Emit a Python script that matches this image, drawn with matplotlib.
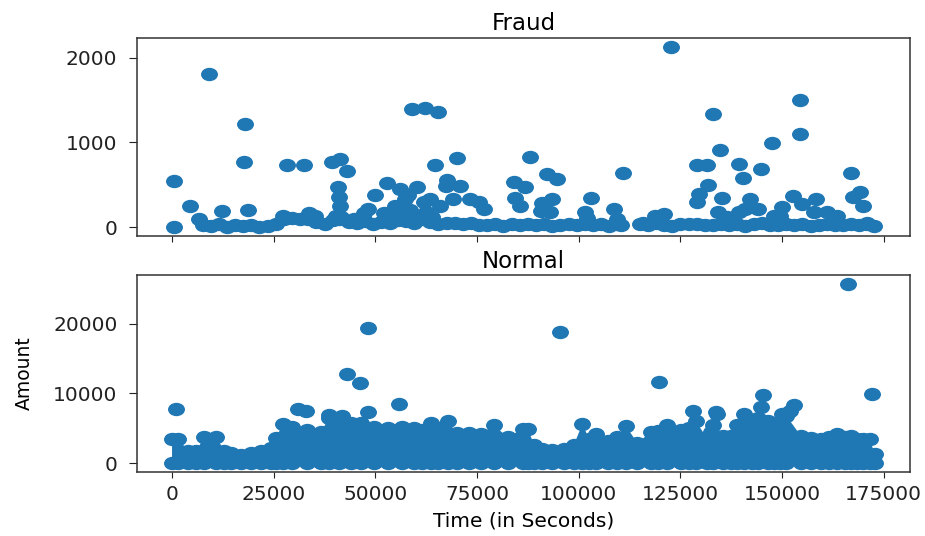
import numpy as np
import matplotlib
matplotlib.use("Agg")
import matplotlib.pyplot as plt
from matplotlib.path import Path
from matplotlib.markers import MarkerStyle

# ---- Fraud transactions (Time in s, Amount) ----
fraud_time = [400, 400, 4500, 6700, 9000, 12300, 17600, 18000, 18600, 27400,
              28300, 32400, 33600, 35200, 39300, 40400, 40700, 41000, 41400, 41400,
              43000, 44700, 47100, 48300, 50000, 52000, 52900, 54900, 56100, 57400,
              59000, 60200, 61900, 62300, 63500, 64600, 65300, 66000, 67300, 67600,
              69200, 70100, 70900, 73300, 75400, 76600, 84000, 84400, 85600, 86900,
              87900, 90600, 91000, 92200, 93000, 93400, 94700, 101600, 102000, 102900,
              108600, 109400, 110800, 115800, 118800, 120900, 122700, 129100, 129100, 129500,
              131500, 131700, 132900, 134300, 134700, 135200, 136400, 139300, 139300, 140400,
              141000, 142200, 144000, 144900, 147500, 148000, 149600, 150000, 152800, 154500,
              154500, 154900, 157800, 158400, 161000, 163500, 167000, 167400, 169200, 170000,
              170900, 56000, 58500, 60500, 62500, 64000, 58000, 41000]
fraud_amount = [545, 0, 243, 94, 1812, 192, 773, 1220, 200, 133,
                732, 732, 170, 133, 773, 133, 467, 350, 800, 250,
                662, 94, 170, 210, 376, 170, 518, 250, 447, 329,
                1388, 467, 290, 1408, 330, 732, 1356, 250, 484, 557,
                329, 816, 486, 329, 290, 212, 533, 346, 250, 467,
                827, 192, 282, 623, 173, 329, 565, 173, 110, 346,
                208, 94, 640, 47, 133, 153, 2125, 290, 729, 388,
                729, 494, 1338, 173, 909, 346, 114, 741, 173, 584,
                212, 329, 212, 682, 988, 133, 133, 232, 369, 1102,
                1498, 270, 173, 329, 173, 133, 643, 357, 408, 250,
                47, 150, 200, 120, 180, 120, 380, 100]

# dense band of small fraud amounts along the bottom
band_time = [7500, 9500, 11500, 13500, 15500, 17500, 19500, 21500, 23500, 25500,
             27500, 29500, 31500, 33500, 35500, 37500, 39500, 41500, 43500, 45500,
             47500, 49500, 51500, 53500, 55500, 57500, 59500, 61500, 63500, 65500,
             67500, 69500, 71500, 73500, 75500, 77500, 79500, 81500, 83500, 85500,
             87500, 89500, 91500, 93500, 95500, 97500, 99500, 101500, 103500, 105500,
             107500, 109500, 110500, 115000, 117000, 119000, 121000, 123000, 125000, 127000,
             129000, 131000, 133000, 135000, 137000, 139000, 141000, 143000, 145000, 147000,
             149000, 151000, 153000, 155000, 157000, 159000, 161000, 163000, 165000, 167000,
             169000, 171000, 172500]
band_amount = [20, 10, 30, 5, 20, 10, 25, 5, 15, 30,
               90, 110, 100, 95, 60, 40, 80, 120, 60, 50,
               70, 40, 60, 45, 80, 75, 50, 100, 60, 35,
               50, 45, 30, 45, 20, 25, 30, 15, 40, 20,
               35, 20, 30, 15, 25, 40, 25, 30, 25, 40,
               15, 30, 20, 30, 25, 45, 25, 15, 40, 30,
               30, 20, 25, 40, 20, 35, 15, 30, 45, 25,
               20, 30, 20, 40, 15, 25, 30, 20, 25, 35,
               20, 30, 15]

# ---- Normal transactions ----
# upper profile of the solid mass of points (time, amount)
normal_env_time = [0, 1500, 3850, 6000, 7900, 10800, 12800, 14500, 17000, 19400,
                   21900, 24300, 25600, 27200, 29500, 33300, 36600, 38600, 41000, 44000,
                   46400, 49600, 53000, 56500, 59500, 61500, 63700, 65500, 67800, 70000,
                   73000, 76000, 79200, 82500, 86200, 87500, 89000, 91000, 93500, 96300,
                   98800, 100900, 102500, 104200, 107100, 109500, 111600, 114400, 117700, 119500,
                   121800, 125100, 127000, 128800, 131600, 133000, 135500, 137500, 139000, 140600,
                   142500, 144000, 146500, 148000, 149500, 151000, 154600, 157000, 159500, 161500,
                   163600, 165500, 166900, 168500, 170000, 171500, 172792]
normal_env_amount = [3500, 3500, 1800, 1700, 3800, 3800, 1800, 1500, 1200, 1500,
                     1800, 2200, 3600, 5600, 5200, 4800, 4400, 6500, 6500, 5800,
                     5800, 5100, 5000, 5100, 5000, 4700, 5800, 5000, 6000, 4300,
                     4300, 4200, 5400, 3700, 4900, 4900, 2600, 2000, 1900, 2000,
                     2600, 5600, 3500, 4200, 3100, 3800, 5300, 2900, 4400, 4600,
                     5500, 4700, 5000, 6000, 3500, 5500, 3900, 3900, 5500, 7000,
                     5500, 6500, 6000, 4800, 6000, 6800, 3900, 3600, 3450, 3700,
                     4200, 3800, 3900, 3500, 3450, 3450, 1300]
# isolated large amounts
normal_out_time = [1000, 31000, 33000, 38600, 41800, 43000, 46300, 48200, 48100, 55900,
                   95400, 119800, 166198, 172200, 145200, 144800, 153000, 150000, 134100, 133700,
                   128000, 132500, 152000]
normal_out_amount = [7700, 7700, 7400, 6860, 6800, 12800, 11550, 19400, 7300, 8500,
                     18800, 11600, 25691, 9900, 9800, 8100, 8300, 7050, 7050, 7270,
                     7500, 4500, 7500]

color = "#1f77b4"

# the source picture is stretched sideways, so the round markers look oval
circ = Path.unit_circle()
oval = MarkerStyle(Path(circ.vertices * [1.0, 0.77], circ.codes))
msize = 125

plt.rcParams["font.size"] = 14.5

fig = plt.figure(figsize=(9.25, 5.36), dpi=100)
ax1 = fig.add_axes([0.148, 0.5597, 0.8357, 0.3694])
ax2 = fig.add_axes([0.148, 0.1194, 0.8357, 0.3675], sharex=ax1)

ax1.scatter(fraud_time + band_time, fraud_amount + band_amount,
            s=msize, marker=oval, color=color)
ax1.set_title("Fraud", fontsize=16.5, pad=6)
ax1.tick_params(labelbottom=False)

# solid body of the normal points below the profile
ax2.fill([normal_env_time[0]] + normal_env_time + [normal_env_time[-1]],
         [0] + normal_env_amount + [0], color=color, lw=0, zorder=2)
ax2.scatter(normal_env_time, normal_env_amount, s=msize, marker=oval, color=color, zorder=3)
ax2.scatter(normal_env_time, np.zeros(len(normal_env_time)), s=msize, marker=oval,
            color=color, zorder=3)
ax2.scatter(normal_out_time, normal_out_amount, s=msize, marker=oval, color=color, zorder=3)
ax2.set_title("Normal", fontsize=16.5, pad=5)
ax2.set_xlabel("Time (in Seconds)", labelpad=5)
ax2.set_ylabel("Amount", labelpad=14, fontsize=13.5)

ax1.set_yticks([0, 1000, 2000])
ax2.set_yticks([0, 10000, 20000])
ax2.set_xticks([0, 25000, 50000, 75000, 100000, 125000, 150000, 175000])

for ax in (ax1, ax2):
    ax.tick_params(axis="x", length=4.5, pad=5, colors="#222222")
    ax.tick_params(axis="y", length=6, pad=8, colors="#222222")
    for sp in ax.spines.values():
        sp.set_linewidth(1.1)
        sp.set_color("#333333")

plt.savefig("out.png", dpi=100)
